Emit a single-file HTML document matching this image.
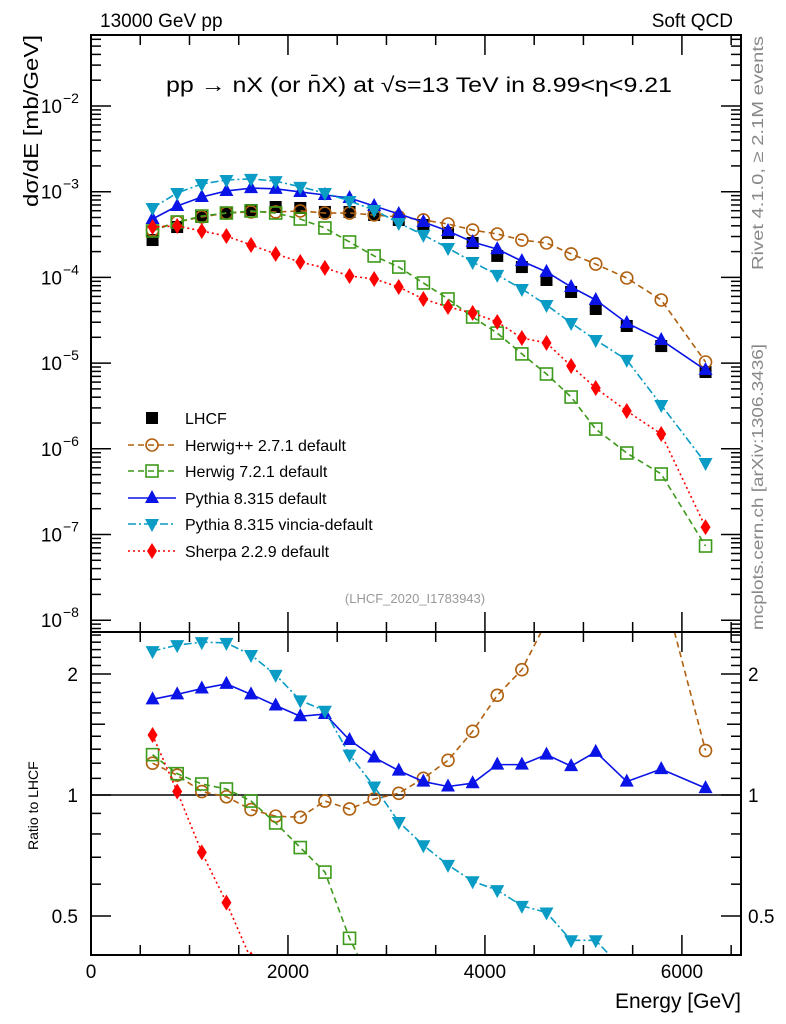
<!DOCTYPE html>
<html><head><meta charset="utf-8"><style>
html,body{margin:0;padding:0;background:#fff;overflow:hidden;width:786px;height:1024px;}
svg{display:block;font-family:"Liberation Sans",sans-serif;}
</style></head><body>
<svg id="chart" width="786" height="1024" viewBox="0 0 786 1024" xmlns="http://www.w3.org/2000/svg">
<defs>
<clipPath id="clipMain"><rect x="91" y="35" width="650" height="597"/></clipPath>
<clipPath id="clipRatio"><rect x="91" y="632" width="650" height="323"/></clipPath>
</defs>
<text x="100" y="27" font-size="19">13000 GeV pp</text>
<text x="733" y="27" font-size="19" text-anchor="end">Soft QCD</text>
<text x="166" y="92" font-size="21" textLength="506" lengthAdjust="spacingAndGlyphs">pp  →  nX (or n̄X) at √s=13 TeV in 8.99&lt;η&lt;9.21</text>
<text transform="translate(38,207) rotate(-90)" font-size="20" textLength="172" lengthAdjust="spacingAndGlyphs">dσ/dE [mb/GeV]</text>
<text transform="translate(38,850) rotate(-90)" font-size="14">Ratio to LHCF</text>
<text x="741" y="1008" font-size="21" text-anchor="end">Energy [GeV]</text>
<text transform="translate(763,270) rotate(-90)" font-size="16" fill="#888" textLength="234" lengthAdjust="spacingAndGlyphs">Rivet 4.1.0, ≥ 2.1M events</text>
<text transform="translate(763,630) rotate(-90)" font-size="16" fill="#888" textLength="286" lengthAdjust="spacingAndGlyphs">mcplots.cern.ch [arXiv:1306.3436]</text>
<text x="415" y="603" font-size="13" fill="#999" text-anchor="middle">(LHCF_2020_I1783943)</text>
<g id="axes"></g>
<g id="mainSeries" clip-path="url(#clipMain)"></g>
<g id="ratioSeries" clip-path="url(#clipRatio)"></g>
<g id="legend"></g>
<rect x="91" y="35" width="650" height="597" fill="none" stroke="#000" stroke-width="2"/>
<rect x="91" y="632" width="650" height="323" fill="none" stroke="#000" stroke-width="2"/>
</svg>
<script>
const energies = [625,875,1125,1375,1625,1875,2125,2375,2625,2875,3125,3375,3625,3875,4125,4375,4625,4875,5125,5440,5790,6240];
const lhcf = [2.73e-4,3.87e-4,5.07e-4,5.64e-4,6.11e-4,6.63e-4,6.46e-4,5.80e-4,5.80e-4,5.35e-4,4.68e-4,4.09e-4,3.30e-4,2.52e-4,1.78e-4,1.32e-4,9.33e-5,6.76e-5,4.28e-5,2.71e-5,1.58e-5,7.87e-6];
const herwigpp = [3.57e-4,4.43e-4,5.07e-4,5.64e-4,5.80e-4,5.80e-4,5.96e-4,5.64e-4,5.64e-4,5.35e-4,5.07e-4,4.68e-4,4.20e-4,3.57e-4,3.21e-4,2.73e-4,2.52e-4,1.88e-4,1.43e-4,9.84e-5,5.45e-5,1.03e-5];
const herwig7 = [3.48e-4,4.43e-4,5.20e-4,5.64e-4,5.96e-4,5.64e-4,4.80e-4,3.77e-4,2.59e-4,1.78e-4,1.32e-4,8.61e-5,5.60e-5,3.45e-5,2.24e-5,1.28e-5,7.46e-6,4.02e-6,1.70e-6,8.93e-7,5.08e-7,7.34e-8];
const pythia = [4.80e-4,6.81e-4,8.67e-4,1.02e-3,1.10e-3,1.08e-3,9.93e-4,9.15e-4,8.44e-4,6.81e-4,5.50e-4,4.43e-4,3.48e-4,2.59e-4,2.14e-4,1.55e-4,1.16e-4,7.73e-5,5.45e-5,2.94e-5,1.86e-5,8.30e-6];
const vincia = [6.46e-4,9.66e-4,1.23e-3,1.37e-3,1.41e-3,1.33e-3,1.14e-3,9.66e-4,7.79e-4,6.11e-4,4.31e-4,3.13e-4,2.20e-4,1.51e-4,1.07e-4,7.33e-5,4.77e-5,2.94e-5,1.86e-5,1.09e-5,3.24e-6,6.83e-7];
const sherpa = [3.87e-4,3.98e-4,3.48e-4,3.04e-4,2.39e-4,1.88e-4,1.51e-4,1.29e-4,1.04e-4,9.58e-5,7.73e-5,5.60e-5,4.52e-5,3.85e-5,3.02e-5,1.96e-5,1.72e-5,9.25e-6,5.12e-6,2.76e-6,1.49e-6,1.22e-7];
const ratioHerwigpp = [1.20,1.12,1.02,0.99,0.92,0.886,0.88,0.966,0.923,0.977,1.01,1.10,1.22,1.44,1.77,2.05,2.7,2.75,3.3,3.6,3.4,1.29];
const ratioHerwig7 = [1.26,1.13,1.065,1.035,0.966,0.852,0.74,0.643,0.44,0.33,0.28,0.21,0.17,0.137,0.126,0.097,0.08,0.059,0.040,0.033,0.032,0.0093];
const ratioPythia = [1.73,1.78,1.84,1.89,1.78,1.67,1.57,1.59,1.37,1.24,1.15,1.08,1.05,1.07,1.19,1.19,1.26,1.18,1.28,1.08,1.16,1.04];
const ratioVincia = [2.28,2.36,2.40,2.39,2.23,1.99,1.72,1.62,1.26,1.05,0.857,0.75,0.67,0.61,0.58,0.53,0.51,0.435,0.435,0.36,0.205,0.087];
const ratioSherpa = [1.41,1.02,0.72,0.54,0.39,0.28,0.23,0.22,0.18,0.18,0.165,0.137,0.137,0.15,0.17,0.148,0.184,0.137,0.12,0.10,0.094,0.0155];
const xTicks = [0,2000,4000,6000];
const yDecades = [-8,-7,-6,-5,-4,-3,-2];
const ratioTickLabels = [0.5,1,2];

const NS="http://www.w3.org/2000/svg";
const X0=91,X1=741,XMAX=6600;
const MT=35,MB=632;
const RT=632,RB=955;
function xs(e){return X0+(e/XMAX)*(X1-X0);}
function ys(v){return 106+(-2-Math.log10(v))*85.7;}
function yr(r){return 795-Math.log2(r)*121;}
function mk(tag,attrs,parent){const el=document.createElementNS(NS,tag);for(const k in attrs)el.setAttribute(k,attrs[k]);parent.appendChild(el);return el;}
function clipRuns(pts,ymin,ymax){
  const runs=[];let cur=[];
  const inside=p=>p[1]>=ymin&&p[1]<=ymax;
  for(let i=1;i<pts.length;i++){
    const p=pts[i],q=pts[i-1];
    let t0=0,t1=1;const dy=p[1]-q[1];
    if(dy!==0){
      let ta=(ymin-q[1])/dy,tb=(ymax-q[1])/dy;
      if(ta>tb){const t=ta;ta=tb;tb=t;}
      t0=Math.max(0,ta);t1=Math.min(1,tb);
    } else if(!inside(q)){t0=1;t1=0;}
    if(t0<=t1){
      const a=[q[0]+(p[0]-q[0])*t0,q[1]+dy*t0];
      const b=[q[0]+(p[0]-q[0])*t1,q[1]+dy*t1];
      if(cur.length===0)cur.push(a);
      cur.push(b);
      if(t1<1){runs.push(cur);cur=[];}
    } else if(cur.length){runs.push(cur);cur=[];}
  }
  if(cur.length)runs.push(cur);
  return runs;
}
const axes=document.getElementById('axes');
const mainG=document.getElementById('mainSeries');
const ratioG=document.getElementById('ratioSeries');
const legG=document.getElementById('legend');

for(let e=0;e<=6500;e+=500){
  const x=xs(e);const major=(e%2000===0);const len=major?20:10;
  for(const [yt,yb] of [[MT,MB],[RT,RB]]){
    const t1=mk('line',{x1:x,x2:x,y1:yb,y2:yb-len,stroke:'#000','stroke-width':1.5},axes);
    
    
    const t2=mk('line',{x1:x,x2:x,y1:yt,y2:yt+len,stroke:'#000','stroke-width':1.5},axes);
    
    
  }
}
xTicks.forEach(e=>{
  const t=mk('text',{x:xs(e),y:978,'font-size':19,'text-anchor':'middle'},axes);
  t.textContent=String(e);
  
  
});
for(let d=-9;d<=-1;d++){
  for(let m=1;m<=9;m++){
    const v=m*Math.pow(10,d);const y=ys(v);
    if(y<MT||y>MB)continue;
    const len=(m===1)?20:10;
    const a=mk('line',{x1:X0,x2:X0+len,y1:y,y2:y,stroke:'#000','stroke-width':1.5},axes);
    
    
    const b=mk('line',{x1:X1,x2:X1-len,y1:y,y2:y,stroke:'#000','stroke-width':1.5},axes);
    
    
  }
}
yDecades.forEach(d=>{
  const y=ys(Math.pow(10,d));
  const t=mk('text',{x:62,y:y+7,'font-size':19,'text-anchor':'end'},axes);
  t.textContent='10';
  
  
  const s=mk('text',{x:63,y:y-3,'font-size':14},axes);
  s.textContent=String(d).replace('-','−');
  
  
});
for(let k=4;k<=25;k++){
  const r=k/10;const y=yr(r);
  if(y<RT||y>RB)continue;
  const len=(k===5||k===10||k===20)?20:(k===15?14:10);
  const a=mk('line',{x1:X0,x2:X0+len,y1:y,y2:y,stroke:'#000','stroke-width':1.5},axes);
  
  
  const b=mk('line',{x1:X1,x2:X1-len,y1:y,y2:y,stroke:'#000','stroke-width':1.5},axes);
  
  
}
ratioTickLabels.forEach(r=>{
  const y=yr(r)+7;
  const a=mk('text',{x:78,y:y,'font-size':19,'text-anchor':'end'},axes);
  a.textContent=String(r);
  
  
  const b=mk('text',{x:748,y:y,'font-size':19},axes);
  b.textContent=String(r);
  
  
});
const unity=mk('line',{x1:X0,x2:X1,y1:yr(1),y2:yr(1),stroke:'#000','stroke-width':1.5},axes);



function marker(type,x,y,color,parent){
  let el;
  if(type==='square') el=mk('rect',{x:x-6,y:y-6,width:12,height:12,fill:'#000'},parent);
  else if(type==='circle') el=mk('circle',{cx:x,cy:y,r:6,fill:'none',stroke:color,'stroke-width':1.6},parent);
  else if(type==='osquare') el=mk('rect',{x:x-6,y:y-6,width:12,height:12,fill:'none',stroke:color,'stroke-width':1.6},parent);
  else if(type==='tup') el=mk('polygon',{points:`${x},${y-8} ${x-7},${y+5} ${x+7},${y+5}`,fill:color},parent);
  else if(type==='tdown') el=mk('polygon',{points:`${x},${y+8} ${x-7},${y-5} ${x+7},${y-5}`,fill:color},parent);
  else if(type==='diamond') el=mk('polygon',{points:`${x},${y-8} ${x-5},${y} ${x},${y+8} ${x+5},${y}`,fill:color},parent);
  return el;
}
const series=[
  {name:'herwigpp',vals:herwigpp,ratio:ratioHerwigpp,color:'#b0600f',dash:'6,4',m:'circle',label:'Herwig++ 2.7.1 default'},
  {name:'herwig7',vals:herwig7,ratio:ratioHerwig7,color:'#3d9a1a',dash:'6,4',m:'osquare',label:'Herwig 7.2.1 default'},
  {name:'pythia',vals:pythia,ratio:ratioPythia,color:'#0a14e6',dash:'',m:'tup',label:'Pythia 8.315 default'},
  {name:'vincia',vals:vincia,ratio:ratioVincia,color:'#0a9cc4',dash:'8,3,2,3',m:'tdown',label:'Pythia 8.315 vincia-default'},
  {name:'sherpa',vals:sherpa,ratio:ratioSherpa,color:'#ff0000',dash:'2,3',m:'diamond',label:'Sherpa 2.2.9 default'}
];
lhcf.forEach((v,i)=>{
  const el=marker('square',xs(energies[i]),ys(v),'#000',mainG);
  
  
});
series.forEach(s=>{
  const mp=s.vals.map((v,i)=>[xs(energies[i]),ys(v)]);
  clipRuns(mp,MT,MB).forEach(run=>{
    const pl=mk('polyline',{points:run.map(p=>p.join(',')).join(' '),fill:'none',stroke:s.color,'stroke-width':1.6,'stroke-dasharray':s.dash},mainG);
    
    
  });
  mp.forEach(p=>{
    if(p[1]<MT-8||p[1]>MB+8)return;
    const el=marker(s.m,p[0],p[1],s.color,mainG);
    
    
  });
  const rp=s.ratio.map((r,i)=>[xs(energies[i]),yr(r)]);
  clipRuns(rp,RT,RB).forEach(run=>{
    const rl=mk('polyline',{points:run.map(p=>p.join(',')).join(' '),fill:'none',stroke:s.color,'stroke-width':1.6,'stroke-dasharray':s.dash},ratioG);
    
    
  });
  rp.forEach(p=>{
    if(p[1]<RT-8||p[1]>RB+8)return;
    const el=marker(s.m,p[0],p[1],s.color,ratioG);
    
    
  });
});
const legY=[418,445,471,498,524,551];
const lm=marker('square',152,legY[0],'#000',legG);


const lt=mk('text',{x:185,y:legY[0]+6,'font-size':16},legG);
lt.textContent='LHCF';


series.forEach((s,k)=>{
  const y=legY[k+1];
  const l=mk('line',{x1:128,x2:176,y1:y,y2:y,stroke:s.color,'stroke-width':1.6,'stroke-dasharray':s.dash},legG);
  
  
  const m=marker(s.m,152,y,s.color,legG);
  
  
  const t=mk('text',{x:185,y:y+6,'font-size':16},legG);
  t.textContent=s.label;
  
  
});
</script>
</body></html>
